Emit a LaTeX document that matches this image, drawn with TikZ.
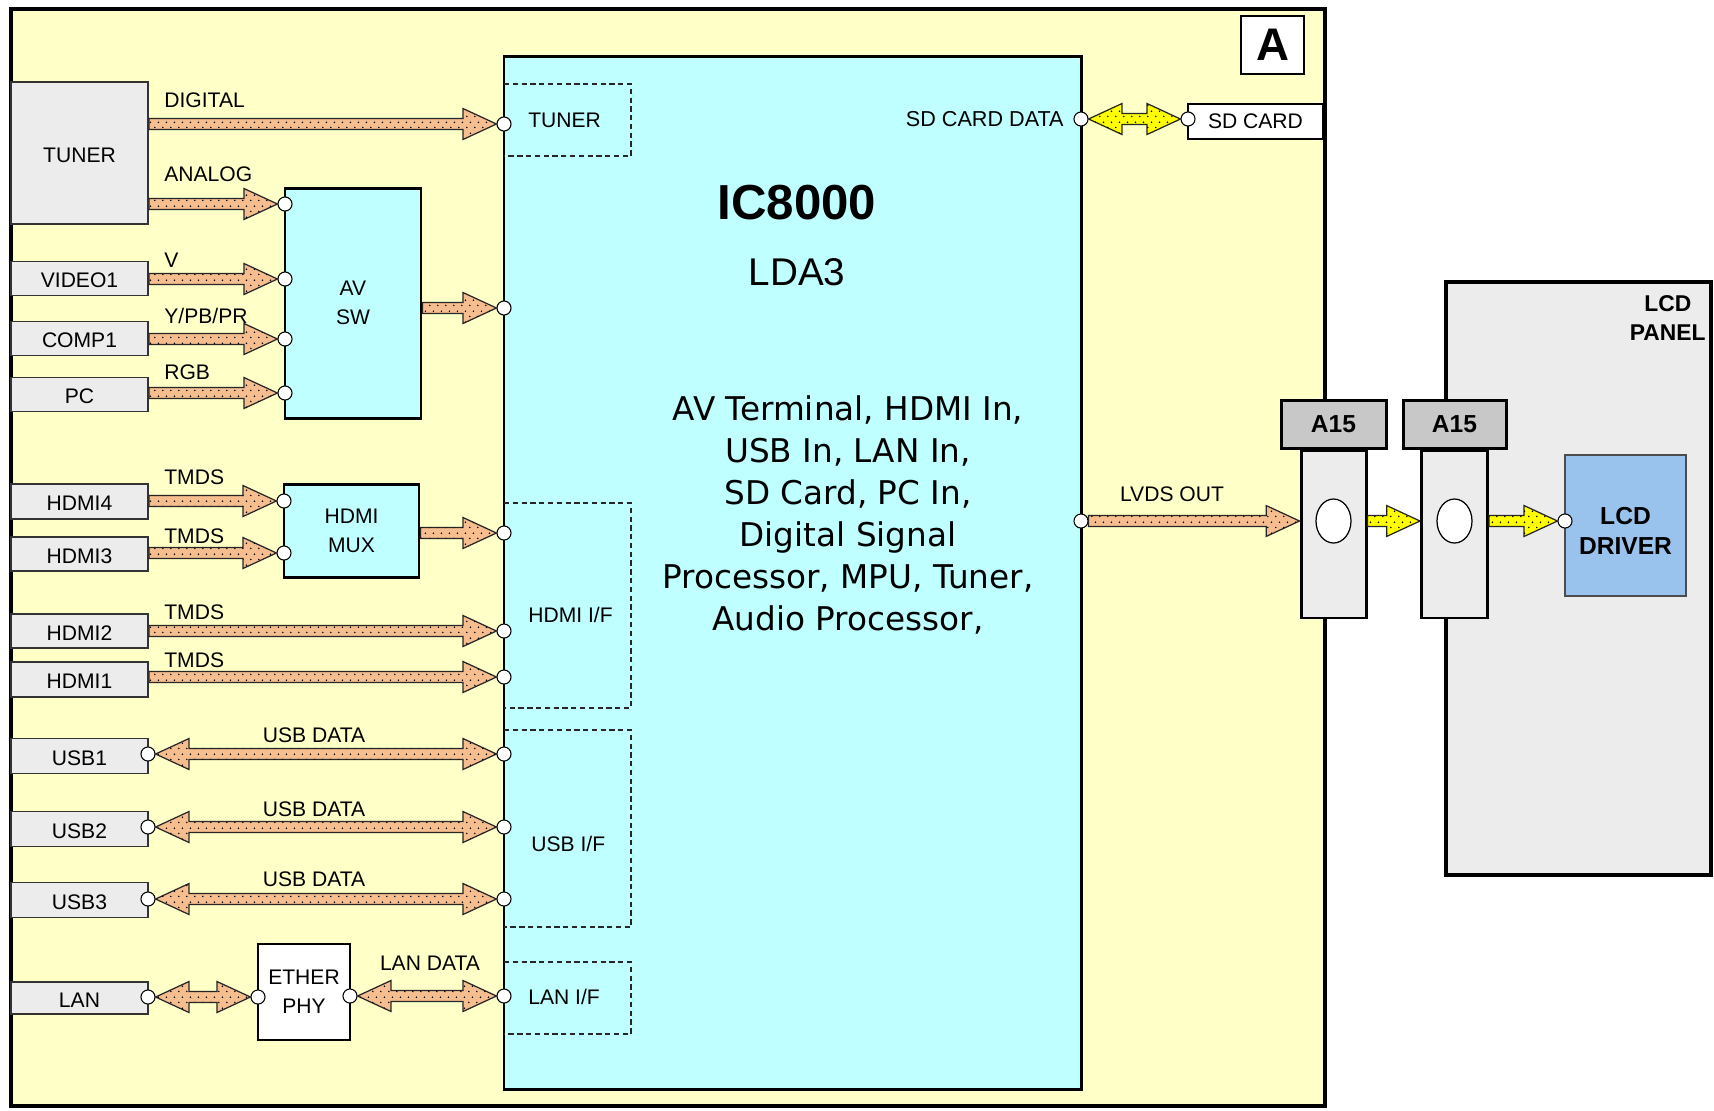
\documentclass[tikz,border=0pt]{standalone}
\usepackage{fontspec}
\setmainfont{Liberation Sans}
\newfontfamily\descfont{DejaVu Sans}
\usetikzlibrary{calc,patterns.meta,shapes.geometric}

\definecolor{boardyellow}{RGB}{255,255,200}
\definecolor{chipcyan}{RGB}{192,255,255}
\definecolor{boxgray}{RGB}{236,236,236}
\definecolor{hdrgray}{RGB}{200,200,200}
\definecolor{drvblue}{RGB}{153,194,236}
\definecolor{arrpeach}{RGB}{246,190,142}
\definecolor{arryellow}{RGB}{255,255,0}

\tikzdeclarepattern{
  name=sparsedots,
  type=uncolored,
  bounding box={(0pt,0pt) and (4.6pt,6pt)},
  tile size={(4.6pt,6pt)},
  code={
    \fill (1.15pt,1.5pt) circle[radius=0.5pt];
    \fill (3.45pt,4.5pt) circle[radius=0.5pt];
  }
}

% fat signal arrows (horizontal, at the height of the end point)
\newcommand{\fatarrow}[3][arrpeach]{%
  \draw[fat, fill=#1, postaction={pattern=sparsedots}]
    let \p1=(#2), \p2=(#3) in
    (\x1,\y2+3.1pt) -- (\x2-19pt,\y2+3.1pt) -- (\x2-19pt,\y2+8.8pt) -- (\x2,\y2)
    -- (\x2-19pt,\y2-8.8pt) -- (\x2-19pt,\y2-3.1pt) -- (\x1,\y2-3.1pt) -- cycle;}
\newcommand{\fatdarrow}[3][arrpeach]{%
  \draw[fat, fill=#1, postaction={pattern=sparsedots}]
    let \p1=(#2), \p2=(#3) in
    (\x1,\y2) -- (\x1+19pt,\y2+8.8pt) -- (\x1+19pt,\y2+3.1pt) -- (\x2-19pt,\y2+3.1pt)
    -- (\x2-19pt,\y2+8.8pt) -- (\x2,\y2) -- (\x2-19pt,\y2-8.8pt) -- (\x2-19pt,\y2-3.1pt)
    -- (\x1+19pt,\y2-3.1pt) -- (\x1+19pt,\y2-8.8pt) -- cycle;}

\begin{document}
\begin{tikzpicture}[x=0.02cm, y=-0.02cm,
  every node/.style={font=\fontsize{12}{16.5}\selectfont},
  wh/.style 2 args={minimum width=#1*0.02cm, minimum height=#2*0.02cm},
  inbox/.style={draw=black!80, fill=boxgray, line width=1.1pt, inner sep=0pt, text height=1.05em, text depth=0pt},
  chip/.style={draw, fill=chipcyan, line width=1.7pt, inner sep=0pt, align=center},
  plain/.style={draw, fill=white, line width=0.8pt, inner sep=0pt, align=center},
  conn/.style={draw, line width=1.7pt, inner sep=0pt},
  port/.style={circle, draw, fill=white, line width=0.6pt, inner sep=0pt, minimum size=8pt},
  ifbox/.style={draw=black!85, dash pattern=on 3pt off 2pt, line width=0.6pt},
  fat/.style={draw=black!85, line width=0.7pt, line join=miter},
  lbl/.style={anchor=west, inner sep=0pt}
]
\path[use as bounding box, fill=white] (0,0) rectangle (1714,1110);

% board and panel
\node[draw, fill=boardyellow, line width=2.3pt, wh={1314}{1097}] (board) at (668,557.5) {};
\node[draw, fill=boxgray, line width=2.3pt, wh={265}{593}] (panel) at (1578.5,578.5) {};
\node[plain, line width=0.9pt, wh={63}{58}, font=\fontsize{26}{30}\selectfont\bfseries] (tag) at (1272.5,45) {A};
\node[anchor=east, align=center, inner sep=0pt, font=\fontsize{13}{17}\selectfont\bfseries] (panellbl) at (1706,318) {LCD\\PANEL};

% main chip
\node[chip, wh={577}{1033}] (ic) at (792.5,572.5) {};
\draw[ifbox] (504,84) -| (631,156) -- (504,156);
\draw[ifbox] (504,503) -| (631,708) -- (504,708);
\draw[ifbox] (504,730) -| (631,927) -- (504,927);
\draw[ifbox] (504,962) -| (631,1034) -- (504,1034);
\node[lbl] (iftuner) at (528,120) {TUNER};
\node[lbl] (ifhdmi) at (528,615) {HDMI I/F};
\node[lbl] (ifusb) at (531,844) {USB I/F};
\node[lbl] (iflan) at (528,997) {LAN I/F};
\node[font=\fontsize{28}{32}\selectfont\bfseries] (icname) at (797,203) {IC8000};
\node[font=\fontsize{22}{26}\selectfont] (icpart) at (797,272) {LDA3};
\node[align=center, font=\descfont\fontsize{18.6}{24}\selectfont] (icdesc) at (848,515)
  {AV Terminal, HDMI In,\\USB In, LAN In,\\SD Card, PC In,\\Digital Signal\\Processor, MPU, Tuner,\\Audio Processor,};
\node[anchor=east, inner sep=0pt, font=\fontsize{12.3}{16}\selectfont] (sdlbl) at (1064,119) {SD CARD DATA};

% inputs
\node[inbox, wh={137}{142}] (tuner) at (79.5,153) {TUNER};
\node[inbox, wh={137}{34}] (video) at (79.5,278.5) {VIDEO1};
\node[inbox, wh={137}{34}] (comp) at (79.5,338.5) {COMP1};
\node[inbox, wh={137}{34}] (pc) at (79.5,394.5) {PC};
\node[inbox, wh={137}{35}] (hdmi4) at (79.5,501.5) {HDMI4};
\node[inbox, wh={137}{34}] (hdmi3) at (79.5,554) {HDMI3};
\node[inbox, wh={137}{34}] (hdmi2) at (79.5,631) {HDMI2};
\node[inbox, wh={137}{35}] (hdmi1) at (79.5,679.5) {HDMI1};
\node[inbox, wh={137}{35}] (usb1) at (79.5,756) {USB1};
\node[inbox, wh={137}{35}] (usb2) at (79.5,829) {USB2};
\node[inbox, wh={137}{35}] (usb3) at (79.5,900) {USB3};
\node[inbox, wh={137}{32}] (lan) at (79.5,998) {LAN};

\node[chip, wh={136}{230}] (avsw) at (353,303) {AV\\SW};
\node[chip, wh={135}{93}] (mux) at (351.5,530.5) {HDMI\\MUX};
\node[plain, wh={92}{96}] (phy) at (304,992) {ETHER\\PHY};

% right side
\node[plain, line width=0.6pt, wh={135}{35}] (sdcard) at (1255.5,121.5) {SD CARD};
\node[conn, fill=hdrgray, wh={105}{48}, font=\fontsize{14}{16}\selectfont\bfseries] (a15l) at (1333.5,424) {A15};
\node[conn, fill=boxgray, wh={65}{167}, anchor=north] (a15lbody) at (a15l.south) {};
\node[ellipse, draw, fill=white, line width=0.7pt, wh={35}{44}] (a15lhole) at (1333.5,521) {};
\node[conn, fill=hdrgray, wh={103}{48}, font=\fontsize{14}{16}\selectfont\bfseries] (a15r) at (1454.5,424) {A15};
\node[conn, fill=boxgray, wh={66}{167}, anchor=north] (a15rbody) at (a15r.south) {};
\node[ellipse, draw, fill=white, line width=0.7pt, wh={35}{44}] (a15rhole) at (1454.5,521) {};
\node[draw=black!70, fill=drvblue, line width=0.7pt, wh={121}{141}, align=center, text height=33pt, text depth=0pt,
  font=\fontsize{14}{17}\selectfont\bfseries] (drv) at (1625.5,525.5) {LCD\\DRIVER};

% ports
\node[port] (pdig) at (504,124) {};
\node[port] (pav) at (504,308) {};
\node[port] (pmux) at (504,533) {};
\node[port] (ph2) at (504,631) {};
\node[port] (ph1) at (504,677) {};
\node[port] (pu1) at (504,754) {};
\node[port] (pu2) at (504,827) {};
\node[port] (pu3) at (504,899) {};
\node[port] (plan) at (504,996) {};
\node[port] (avana) at (285,204) {};
\node[port] (avv) at (285,279) {};
\node[port] (avy) at (285,339) {};
\node[port] (avrgb) at (285,393) {};
\node[port] (mux4) at (284,501) {};
\node[port] (mux3) at (284,553) {};
\node[port] (usb1p) at (148,754) {};
\node[port] (usb2p) at (148,827) {};
\node[port] (usb3p) at (148,899) {};
\node[port] (lanp) at (148,997) {};
\node[port] (phyl) at (258,997) {};
\node[port] (phyr) at (350,996) {};
\node[port] (psd) at (1081,119) {};
\node[port] (sdp) at (1188,119) {};
\node[port] (plvds) at (1081,521) {};
\node[port] (pdrv) at (1565,521) {};

% signal paths
\fatarrow{tuner.east}{pdig.west}
\fatarrow{tuner.east}{avana.west}
\fatarrow{video.east}{avv.west}
\fatarrow{comp.east}{avy.west}
\fatarrow{pc.east}{avrgb.west}
\fatarrow{avsw.east}{pav.west}
\fatarrow{hdmi4.east}{mux4.west}
\fatarrow{hdmi3.east}{mux3.west}
\fatarrow{mux.east}{pmux.west}
\fatarrow{hdmi2.east}{ph2.west}
\fatarrow{hdmi1.east}{ph1.west}
\fatdarrow{usb1p.east}{pu1.west}
\fatdarrow{usb2p.east}{pu2.west}
\fatdarrow{usb3p.east}{pu3.west}
\fatdarrow{lanp.east}{phyl.west}
\fatdarrow{phyr.east}{plan.west}
\fatdarrow[arryellow]{psd.east}{sdp.west}
\fatarrow{plvds.east}{a15lbody.west |- plvds}
\fatarrow[arryellow]{a15lbody.east}{a15rbody.west |- pdrv}
\fatarrow[arryellow]{a15rbody.east}{pdrv.west}

% labels
\node[lbl] (ldig) at (164,100) {DIGITAL};
\node[lbl] (lana) at (164,174) {ANALOG};
\node[lbl] (lv) at (164,260) {V};
\node[lbl] (lypp) at (164,316) {Y/PB/PR};
\node[lbl] (lrgb) at (164,372) {RGB};
\node[lbl] (lt4) at (164,477) {TMDS};
\node[lbl] (lt3) at (164,536) {TMDS};
\node[lbl] (lt2) at (164,612) {TMDS};
\node[lbl] (lt1) at (164,660) {TMDS};
\node (lu1) at (314,735) {USB DATA};
\node (lu2) at (314,809) {USB DATA};
\node (lu3) at (314,879) {USB DATA};
\node (llan) at (430,963) {LAN DATA};
\node (llvds) at (1172,494) {LVDS OUT};

\end{tikzpicture}
\end{document}
